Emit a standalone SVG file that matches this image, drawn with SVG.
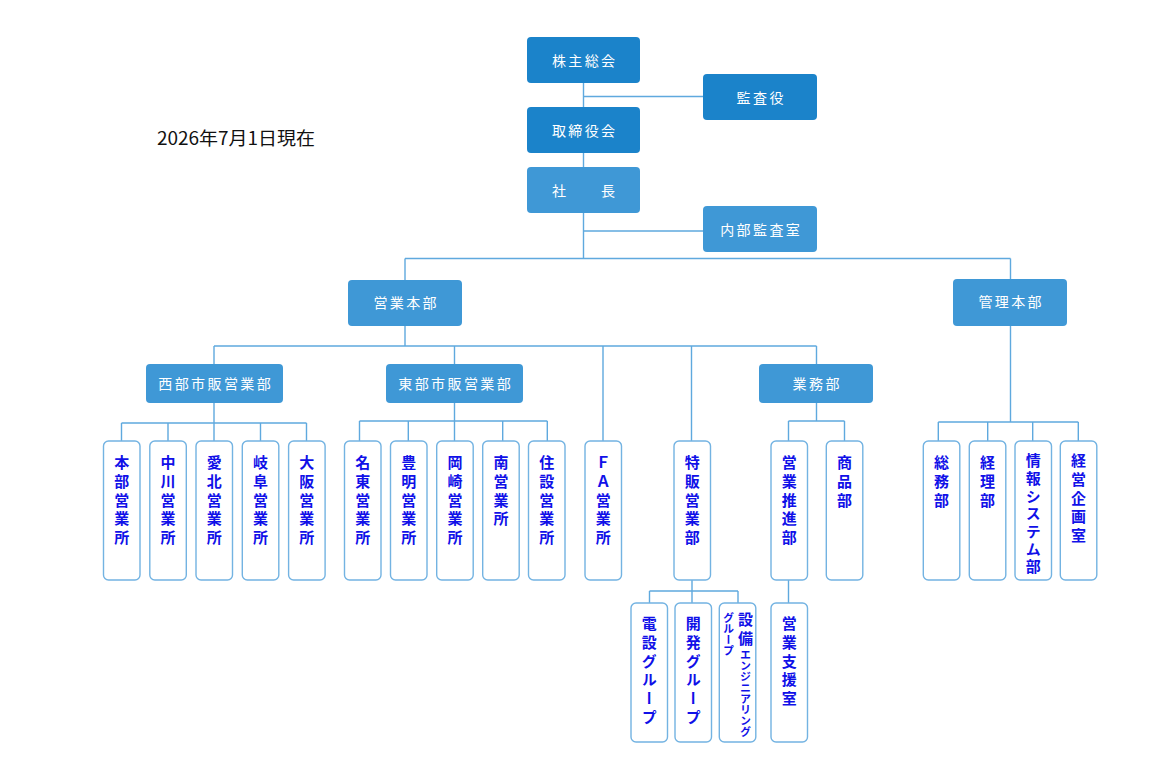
<svg xmlns="http://www.w3.org/2000/svg" width="1150" height="761" viewBox="0 0 1150 761">
<style>
.dk{fill:#1b83ca}
.lt{fill:#3f98d6}
.wb{fill:#fff;stroke:#73b3e2;stroke-width:1.4}
.lbl{font-family:"Noto Sans CJK JP","Noto Sans",sans-serif;font-size:14px;fill:#fff;letter-spacing:2.4px;text-anchor:middle}
.vt{font-family:"Noto Sans CJK JP","Noto Sans",sans-serif;font-size:15px;font-weight:bold;fill:#1010e8;writing-mode:vertical-rl;letter-spacing:3.7px}
.con{fill:none;stroke:#5fa9de;stroke-width:1.4}
</style>
<rect width="1150" height="761" fill="#fff"/>
<text x="157" y="145" font-family="Noto Sans CJK JP, sans-serif" font-size="18" fill="#111" textLength="158" lengthAdjust="spacingAndGlyphs">2026年7月1日現在</text>
<g id="connectors" class="con">
<path d="M583.5 83V107M583.5 153V167M583.5 213V258.5M583.5 96.5H703M583.5 231H703"/>
<path d="M405 258.5H1010.5M405 258.5V280M1010.5 258.5V279"/>
<path d="M405 326V346M214 346H816.5M214 346V364M454.5 346V364M816.5 346V364M603 346V441M691.5 346V441"/>
<path d="M214 403V441M121.5 423H306.5M121.5 423V441M168 423V441M260.5 423V441M306.5 423V441"/>
<path d="M454.5 403V441M359.5 421H547.3M359.5 421V441M408.3 421V441M502.7 421V441M547.3 421V441"/>
<path d="M816.5 403V421M788.5 421H844.5M788.5 421V441M844.5 421V441"/>
<path d="M1010.5 326V422M938.3 422H1078.3M938.3 422V441M987.7 422V441M1032.7 422V441M1078.3 422V441"/>
<path d="M692 580V591M649.5 591H738M649.5 591V603M692 591V603M738 591V603M788.5 580V603"/>
</g>
<g id="kabunushi"><rect class="dk" x="527" y="37" width="113" height="46" rx="4"/><text class="lbl" x="584.7" y="66">株主総会</text></g>
<g id="kansayaku"><rect class="dk" x="703" y="74" width="114" height="46" rx="4"/><text class="lbl" x="761.2" y="103">監査役</text></g>
<g id="torishimariyakukai"><rect class="dk" x="527" y="107" width="113" height="46" rx="4"/><text class="lbl" x="584.7" y="136">取締役会</text></g>
<g id="shacho"><rect class="lt" x="527" y="167" width="113" height="46" rx="4"/><text class="lbl" x="584.7" y="196" xml:space="preserve">社　　長</text></g>
<g id="naibukansa"><rect class="lt" x="703" y="206" width="114" height="46" rx="4"/><text class="lbl" x="761.2" y="235">内部監査室</text></g>
<g id="eigyohonbu"><rect class="lt" x="348" y="280" width="114" height="46" rx="4"/><text class="lbl" x="406.2" y="308">営業本部</text></g>
<g id="kanrihonbu"><rect class="lt" x="953" y="279" width="114" height="47" rx="4"/><text class="lbl" x="1011.2" y="307">管理本部</text></g>
<g id="seibu"><rect class="lt" x="146" y="364" width="137" height="39" rx="4"/><text class="lbl" x="215.7" y="389">西部市販営業部</text></g>
<g id="tobu"><rect class="lt" x="386" y="364" width="137" height="39" rx="4"/><text class="lbl" x="455.7" y="389">東部市販営業部</text></g>
<g id="gyomubu"><rect class="lt" x="759" y="364" width="114" height="39" rx="4"/><text class="lbl" x="817.2" y="389">業務部</text></g>

<g id="honbu-eigyosho"><rect class="wb" x="103.5" y="441" width="36.5" height="139" rx="5"/><text class="vt" x="121.7" y="455">本部営業所</text></g>
<g id="nakagawa"><rect class="wb" x="149.8" y="441" width="36.5" height="139" rx="5"/><text class="vt" x="168" y="455">中川営業所</text></g>
<g id="aihoku"><rect class="wb" x="196" y="441" width="36.5" height="139" rx="5"/><text class="vt" x="214.2" y="455">愛北営業所</text></g>
<g id="gifu"><rect class="wb" x="242.3" y="441" width="36.5" height="139" rx="5"/><text class="vt" x="260.5" y="455">岐阜営業所</text></g>
<g id="osaka"><rect class="wb" x="288.6" y="441" width="36.5" height="139" rx="5"/><text class="vt" x="306.8" y="455">大阪営業所</text></g>

<g id="meito"><rect class="wb" x="344.5" y="441" width="36.5" height="139" rx="5"/><text class="vt" x="362.7" y="455">名東営業所</text></g>
<g id="toyoake"><rect class="wb" x="390.5" y="441" width="36.5" height="139" rx="5"/><text class="vt" x="408.7" y="455">豊明営業所</text></g>
<g id="okazaki"><rect class="wb" x="436.7" y="441" width="36.5" height="139" rx="5"/><text class="vt" x="454.9" y="455">岡崎営業所</text></g>
<g id="minami"><rect class="wb" x="482.7" y="441" width="36.5" height="139" rx="5"/><text class="vt" x="500.9" y="455">南営業所</text></g>
<g id="jusetsu"><rect class="wb" x="528.5" y="441" width="36.5" height="139" rx="5"/><text class="vt" x="546.7" y="455">住設営業所</text></g>

<g id="fa"><rect class="wb" x="585" y="441" width="36.5" height="139" rx="5"/><text class="vt" x="603.2" y="455">ＦＡ営業所</text></g>
<g id="tokuhan"><rect class="wb" x="674" y="441" width="36.5" height="139" rx="5"/><text class="vt" x="692.2" y="455">特販営業部</text></g>
<g id="eigyosuishin"><rect class="wb" x="771" y="441" width="36.5" height="139" rx="5"/><text class="vt" x="789.2" y="455">営業推進部</text></g>
<g id="shohin"><rect class="wb" x="826.3" y="441" width="36.5" height="139" rx="5"/><text class="vt" x="844.5" y="455">商品部</text></g>

<g id="somu"><rect class="wb" x="923.3" y="441" width="36.5" height="139" rx="5"/><text class="vt" x="941.5" y="455">総務部</text></g>
<g id="keiri"><rect class="wb" x="969.3" y="441" width="36.5" height="139" rx="5"/><text class="vt" x="987.5" y="455">経理部</text></g>
<g id="joho"><rect class="wb" x="1015" y="441" width="36.5" height="139" rx="5"/><text class="vt" x="1033.2" y="453" style="letter-spacing:2.7px">情報システム部</text></g>
<g id="keiei"><rect class="wb" x="1060.3" y="441" width="36.5" height="139" rx="5"/><text class="vt" x="1078.5" y="453">経営企画室</text></g>

<g id="densetsu"><rect class="wb" x="631" y="603" width="36.5" height="139" rx="5"/><text class="vt" x="649.2" y="616">電設グループ</text></g>
<g id="kaihatsu"><rect class="wb" x="675" y="603" width="36.5" height="139" rx="5"/><text class="vt" x="693.2" y="616">開発グループ</text></g>
<g id="setsubi"><rect class="wb" x="719.3" y="603" width="36.5" height="139" rx="5"/><text class="vt" x="745.5" y="612" style="letter-spacing:3.5px">設備<tspan style="font-size:11px;letter-spacing:0px">エンジニアリング</tspan></text><text class="vt" x="728.5" y="612" style="font-size:11px;letter-spacing:0px">グループ</text></g>
<g id="eigyoshien"><rect class="wb" x="771" y="603" width="36.5" height="139" rx="5"/><text class="vt" x="789.2" y="616">営業支援室</text></g>
</svg>
